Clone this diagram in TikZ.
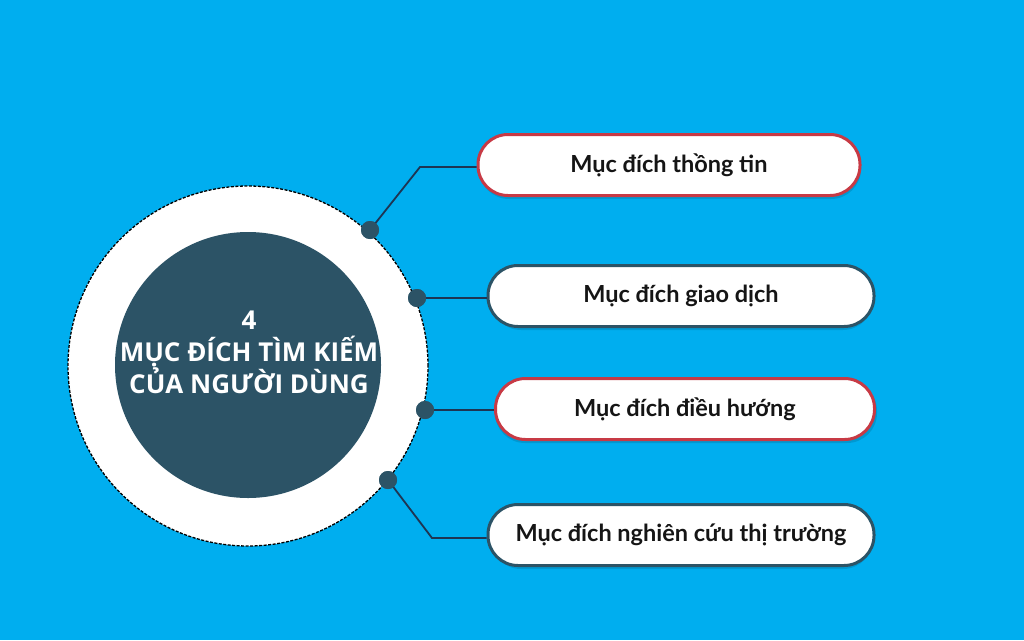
\documentclass[tikz,border=0pt]{standalone}
\usepackage{fontspec}
\setmainfont{Lato}
\newfontfamily\titlefont{Open Sans}
\definecolor{bgblue}{HTML}{00AEEF}
\definecolor{darkteal}{HTML}{2C5366}
\definecolor{redline}{HTML}{C73A45}
\definecolor{linecol}{HTML}{1E3553}
\definecolor{txt}{HTML}{151515}
\begin{document}
\begin{tikzpicture}[x=1pt,y=-1pt,
  pill/.style={draw, line width=3pt, fill=white, rounded corners=30pt,
    minimum height=61pt, font=\fontsize{23.5}{26}\selectfont\bfseries, text=txt, inner sep=0pt},
  redpill/.style={pill, draw=redline},
  tealpill/.style={pill, draw=darkteal},
  dot/.style={circle, fill=darkteal, minimum size=18pt, inner sep=0pt},
  conn/.style={draw=linecol, line width=1.8pt}]
\useasboundingbox (0,0) rectangle (1024,640);
\fill[bgblue] (0,0) rectangle (1024,640);
% outer white circle
\node[circle, fill=white, draw=black, dashed, dash pattern=on 3pt off 1.5pt, line width=1.3pt,
  minimum size=360pt, inner sep=0pt] (outer) at (248,366) {};
\node[circle, fill=darkteal, minimum size=266pt, inner sep=0pt] (center) at (248,365) {};
\node[text=white, align=center, inner sep=0pt,
  font=\titlefont\fontsize{26}{32}\selectfont\bfseries] (title) at (249,352)
  {4\\MỤC ĐÍCH TÌM KIẾM\\CỦA NGƯỜI DÙNG};
% shadows
\foreach \cx/\cy in {669/165, 681/296, 685/409, 681/535}
  \fill[black, opacity=0.12, rounded corners=30pt] (\cx-190,\cy-28) rectangle (\cx+192,\cy+34);
% boxes
\node[redpill, minimum width=382pt] (b1) at (669,165) {Mục đích thồng tin};
\node[tealpill, minimum width=386pt] (b2) at (681,296) {Mục đích giao dịch};
\node[redpill, minimum width=379pt] (b3) at (685,409) {Mục đích điều hướng};
\node[tealpill, minimum width=386pt] (b4) at (681,535) {Mục đích nghiên cứu thị trường};
% dots
\node[dot] (d1) at (370,230) {};
\node[dot] (d2) at (417,298) {};
\node[dot] (d3) at (425,410) {};
\node[dot] (d4) at (388,480) {};
\coordinate (k1) at (420,167);
\coordinate (k4) at (432,538);
% connectors
\draw[conn] (d1.center) -- (k1) -- (b1.west |- k1);
\draw[conn] (d2.center) -- (b2.west |- d2);
\draw[conn] (d3.center) -- (b3.west |- d3);
\draw[conn] (d4.center) -- (k4) -- (b4.west |- k4);
\node[dot] at (d1) {};
\node[dot] at (d2) {};
\node[dot] at (d3) {};
\node[dot] at (d4) {};
\end{tikzpicture}
\end{document}
